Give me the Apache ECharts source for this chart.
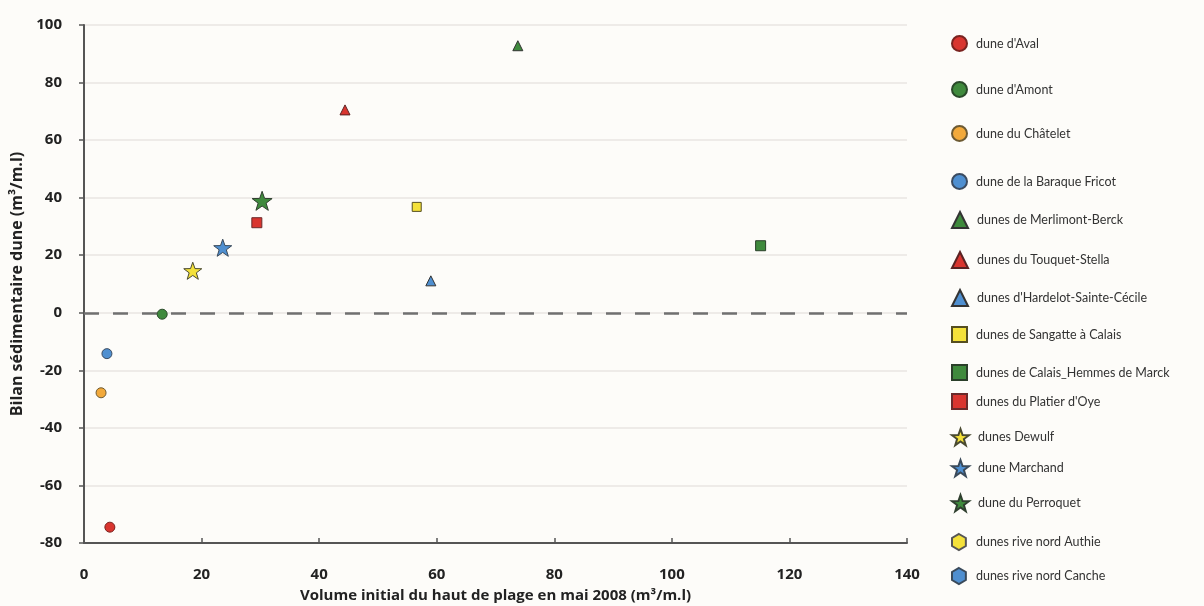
<!DOCTYPE html>
<html>
<head>
<meta charset="utf-8">
<script src="https://cdn.jsdelivr.net/npm/echarts@6/dist/echarts.min.js"></script>
<style>
html,body{margin:0;padding:0;background:#fdfcf9;}
#chart{width:1204px;height:606px;}
</style>
</head>
<body>
<div id="chart"></div>
<script>
// ---- data ----
const seriesNames = [
  "dune d'Aval",
  "dune d'Amont",
  "dune du Châtelet",
  "dune de la Baraque Fricot",
  "dunes de Merlimont-Berck",
  "dunes du Touquet-Stella",
  "dunes d'Hardelot-Sainte-Cécile",
  "dunes de Sangatte à Calais",
  "dunes de Calais_Hemmes de Marck",
  "dunes du Platier d'Oye",
  "dunes Dewulf",
  "dune Marchand",
  "dune du Perroquet",
  "dunes rive nord Authie",
  "dunes rive nord Canche"
];
const xValues = [4.4, 13.3, 2.9, 3.9, 73.8, 44.4, 59.0, 56.6, 115.1, 29.4, 18.5, 23.6, 30.3, null, null];
const yValues = [-74.5, -0.5, -27.8, -14.2, 92.8, 70.5, 11.1, 36.8, 23.3, 31.3, 14.6, 22.6, 38.9, null, null];
const xTicks = [0, 20, 40, 60, 80, 100, 120, 140];
const yTicks = [-80, -60, -40, -20, 0, 20, 40, 60, 80, 100];

// ---- styles ----
const STAR = 'path://M50 0 L61.76 33.82 L97.55 34.55 L69.02 56.18 L79.39 90.45 L50 70 L20.61 90.45 L30.98 56.18 L2.45 34.55 L38.24 33.82 Z';
const HEX = 'path://M50 0 L93.3 25 L93.3 75 L50 100 L6.7 75 L6.7 25 Z';
const styles = [
  {symbol:'circle', size:10, color:'#d9352f', border:'#7a2320'},
  {symbol:'circle', size:10, color:'#3f8a3d', border:'#2a4a2a'},
  {symbol:'circle', size:10, color:'#f2a93b', border:'#6d5a33'},
  {symbol:'circle', size:10, color:'#4f8fd0', border:'#3b4b60'},
  {symbol:'triangle', size:10, color:'#3f8a3d', border:'#333'},
  {symbol:'triangle', size:10, color:'#d9352f', border:'#5a2222'},
  {symbol:'triangle', size:10, color:'#4f8fd0', border:'#333'},
  {symbol:'rect', size:9, color:'#f4e13a', border:'#554e20'},
  {symbol:'rect', size:10, color:'#3f8a3d', border:'#2a3f2a'},
  {symbol:'rect', size:10, color:'#d9352f', border:'#6a2a2a'},
  {symbol:STAR, size:18, color:'#f4e13a', border:'#4a4a30'},
  {symbol:STAR, size:18, color:'#4f8fd0', border:'#3a4a5a'},
  {symbol:STAR, size:20, color:'#3f8a3d', border:'#2f3f2f'},
  {symbol:HEX, size:15, color:'#f4e13a', border:'#555'},
  {symbol:HEX, size:15, color:'#4f8fd0', border:'#3a4a5a'}
];
const legendTops = [39, 85, 129, 177, 215, 255, 293, 330, 368, 397, 432, 463, 498, 537, 571];
const legendIconSize = [15,15,15,15,16,16,16,15,15,15,17,17,17,16,16];

const series = seriesNames.map((name, i) => ({
  name: name,
  type: 'scatter',
  symbol: styles[i].symbol,
  symbolSize: styles[i].size,
  symbolKeepAspect: true,
  itemStyle: {color: styles[i].color, borderColor: styles[i].border, borderWidth: 1, opacity: 1},
  data: xValues[i] === null ? [] : [[xValues[i], yValues[i]]],
  z: 5
}));
series.push({
  name: 'zero',
  type: 'line',
  data: [],
  silent: true,
  markLine: {
    silent: true,
    symbol: 'none',
    label: {show: false},
    lineStyle: {color: '#707070', width: 2.5, type: [15, 14]},
    data: [{yAxis: 0}]
  },
  z: 2
});

const legends = seriesNames.map((name, i) => ({
  left: 946,
  top: legendTops[i] - 9,
  orient: 'vertical',
  itemWidth: legendIconSize[i],
  itemHeight: legendIconSize[i],
  itemGap: 0,
  selectedMode: false,
  data: [{name: name, icon: styles[i].symbol}],
  textStyle: {fontFamily: 'Lato', fontSize: 12.5, color: '#333', padding: [0, 0, 0, 4]}
}));

const chart = echarts.init(document.getElementById('chart'));
chart.setOption({
  backgroundColor: '#fdfcf9',
  animation: false,
  legend: legends,
  grid: {left: 84, right: 297, top: 25, bottom: 63, containLabel: false, outerBoundsMode: 'none'},
  xAxis: {
    type: 'value',
    min: xTicks[0],
    max: xTicks[xTicks.length - 1],
    interval: 20,
    name: 'Volume initial du haut de plage en mai 2008 (m³/m.l)',
    nameLocation: 'middle',
    nameGap: 45,
    nameTextStyle: {fontFamily: 'Open Sans', fontWeight: 'bold', fontSize: 15, color: '#222'},
    axisLine: {onZero: false, lineStyle: {color: '#555', width: 2}},
    axisTick: {show: true, inside: true, length: 5, lineStyle: {color: '#555', width: 1.5}},
    axisLabel: {fontFamily: 'Open Sans', fontWeight: 'bold', fontSize: 15, color: '#222', margin: 24},
    splitLine: {show: false}
  },
  yAxis: {
    type: 'value',
    min: yTicks[0],
    max: yTicks[yTicks.length - 1],
    interval: 20,
    name: 'Bilan sédimentaire dune (m³/m.l)',
    nameLocation: 'middle',
    nameGap: 56,
    nameTextStyle: {fontFamily: 'Open Sans', fontWeight: 'bold', fontSize: 16, color: '#222'},
    axisLine: {show: true, onZero: false, lineStyle: {color: '#555', width: 2}},
    axisTick: {show: true, length: 5, lineStyle: {color: '#555', width: 1.5}},
    axisLabel: {fontFamily: 'Open Sans', fontWeight: 'bold', fontSize: 15, color: '#222', margin: 22},
    splitLine: {show: true, lineStyle: {color: '#e9e6e2', width: 1.5}}
  },
  series: series
});
</script>
</body>
</html>
